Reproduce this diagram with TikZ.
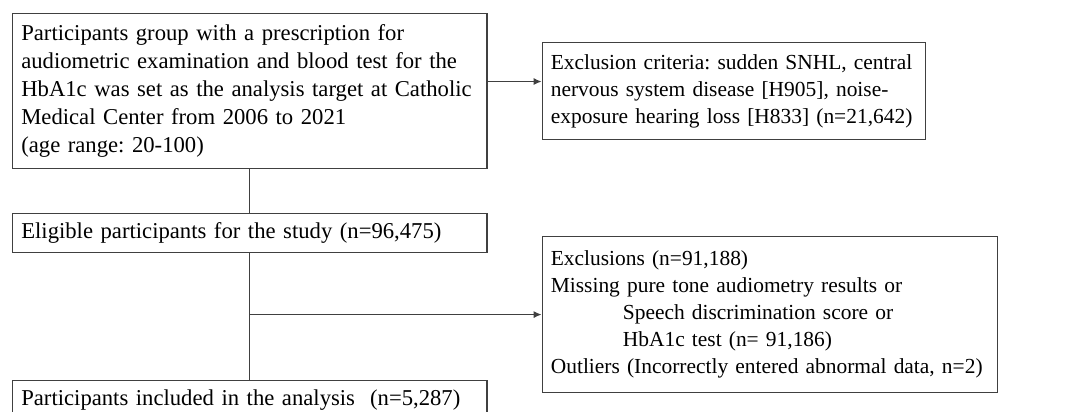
\documentclass[tikz,border=0pt]{standalone}
\usepackage{fontspec}
\setmainfont{Liberation Serif}
\usetikzlibrary{positioning,arrows.meta}
\frenchspacing

\begin{document}
\begin{tikzpicture}[
    box/.style={draw=black!75, line width=0.6pt, inner xsep=5pt, inner ysep=0pt,
                align=left, font=\fontsize{12.9}{15.9}\selectfont},
    sidebox/.style={box, font=\fontsize{12.2}{15.3}\selectfont},
    link/.style={draw=black!75, line width=0.6pt},
    arr/.style={link, -{Latex[length=4.5pt,width=4pt]}},
    node distance=0.88cm
]
\useasboundingbox (0,0) rectangle (21.32,-8.22);
\clip (0,0) rectangle (21.32,-8.22);

\node[box, text width=260pt, minimum height=3.1cm, anchor=north west] (cohort) at (0.24,-0.26)
    {Participants group with a prescription for\\
     audiometric examination and blood test for the\\
     HbA1c was set as the analysis target at Catholic\\
     Medical Center from 2006 to 2021\\
     (age range: 20-100)};
\node[box, text width=260pt, minimum height=0.78cm, below=of cohort] (eligible)
    {Eligible participants for the study (n=96,475)};
\node[box, text width=260pt, minimum height=0.78cm, below=2.54cm of eligible] (included)
    {Participants included in the analysis\ \ (n=5,287)};
\node[sidebox, text width=208pt, minimum height=1.94cm, right=1.08cm of cohort] (criteria)
    {Exclusion criteria: sudden SNHL, central\\
     nervous system disease [H905], noise-\\
     exposure hearing loss [H833] (n=21,642)};
\node[sidebox, text width=249pt, minimum height=3.12cm, below=1.92cm of criteria.south west,
      anchor=north west] (missing)
    {Exclusions (n=91,188)\\
     Missing pure tone audiometry results or\\
     \hspace*{41pt}Speech discrimination score or\\
     \hspace*{41pt}HbA1c test (n= 91,186)\\
     Outliers (Incorrectly entered abnormal data, n=2)};

\coordinate[above=0.19cm of cohort.east] (tap);
\draw[link] (cohort) -- (eligible);
\draw[arr] (tap) -- (tap -| criteria.west);
\draw[link] (eligible) -- (included);
\draw[arr] (eligible.south |- missing.west) -- (missing.west);
\end{tikzpicture}
\end{document}
